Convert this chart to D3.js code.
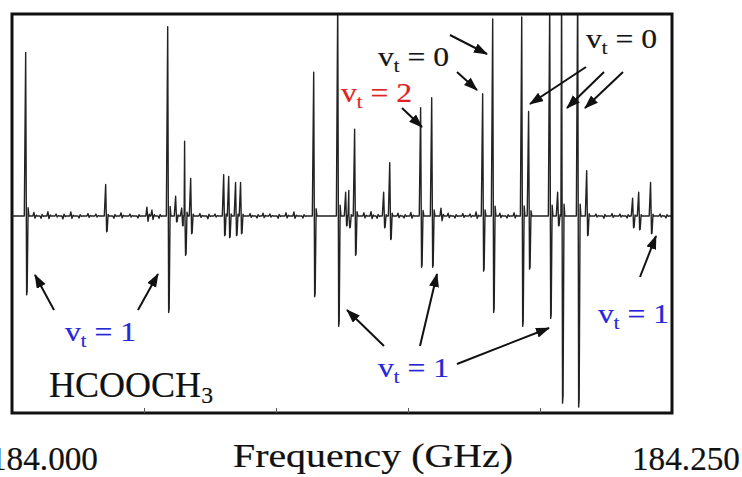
<!DOCTYPE html>
<html>
<head>
<meta charset="utf-8">
<script src="https://cdn.jsdelivr.net/npm/d3@7"></script>
<style>
  body { margin: 0; background: #fff; }
  svg { display: block; }
</style>
</head>
<body>
<div id="chart"></div>
<script>
// strong lines: frequency (GHz), positive lobe, negative lobe (arbitrary units)
const lineFreq = [184.0053, 184.0356, 184.0591, 184.0621, 184.0644, 184.0655, 184.0678,
  184.0803, 184.0822, 184.0848, 184.0867, 184.1144, 184.1235, 184.1265, 184.1277, 184.1299,
  184.1409, 184.1432, 184.1549, 184.1591, 184.1784, 184.1822, 184.1932, 184.1958, 184.2038,
  184.2068, 184.2083, 184.2144, 184.2178, 184.2352, 184.2375, 184.2420];
const lineUp = [0.83, 0.16, 0.96, 0.10, 0.04, 0.38, 0.19,
  0.21, 0.20, 0.17, 0.17, 0.73, 1.10, 0.12, 0.13, 0.44,
  0.12, 0.27, 0.55, 0.60, 0.62, 1.00, 1.01, 0.53, 1.10,
  0.12, 1.20, 1.20, 0.23, 0.09, 0.12, 0.17];
const lineDown = [-0.40, -0.08, -0.49, -0.03, -0.05, -0.20, -0.09,
  -0.10, -0.11, -0.10, -0.09, -0.41, -0.56, -0.05, -0.06, -0.20,
  -0.06, -0.12, -0.26, -0.26, -0.28, -0.49, -0.56, -0.27, -0.52,
  -0.05, -0.95, -0.97, -0.10, -0.06, -0.07, -0.09];

// weak features in the baseline (negative = dip first)
const weakFreq = [184.0083, 184.0110, 184.0136, 184.0167, 184.0193, 184.0223, 184.0254, 184.0288,
  184.0318, 184.0386, 184.0413, 184.0447, 184.0477, 184.0511, 184.0530, 184.0557, 184.0712,
  184.0742, 184.0769, 184.0902, 184.0928, 184.0951, 184.0977, 184.1008, 184.1038, 184.1068,
  184.1102, 184.1333, 184.1360, 184.1383, 184.1462, 184.1485, 184.1511, 184.1625, 184.1652,
  184.1678, 184.1708, 184.1735, 184.1758, 184.1848, 184.1875, 184.1902, 184.2212, 184.2242,
  184.2273, 184.2303, 184.2330, 184.2455, 184.2477];
const weakAmp = [0.018, -0.012, 0.022, 0.010, -0.015, 0.020, -0.010, 0.012,
  0.010, -0.012, 0.016, 0.010, -0.010, 0.045, 0.030, -0.012, 0.012,
  -0.014, 0.010, 0.012, -0.010, 0.014, 0.010, -0.012, 0.016, 0.020,
  -0.010, 0.016, 0.022, -0.012, 0.014, -0.010, 0.018, 0.040, 0.014,
  -0.010, 0.012, 0.010, 0.020, 0.014, -0.010, 0.016, 0.010, -0.012,
  0.012, 0.010, -0.010, 0.010, -0.010];

const freqDomain = [184.000, 184.250];
const minorTicks = [184.05, 184.10, 184.15, 184.20];
const endLabels = ["184.000", "184.250"];

const W = 742, H = 477;
const box = { left: 12, top: 14, right: 672, bottom: 413 };

const svg = d3.select("#chart").append("svg")
  .attr("width", W).attr("height", H);

const x = d3.scaleLinear().domain(freqDomain).range([box.left, box.right]);
const y = d3.scaleLinear().domain([-1, 1.025]).range([box.bottom, box.top]);

svg.append("clipPath").attr("id", "plotclip")
  .append("rect")
  .attr("x", box.left).attr("y", box.top)
  .attr("width", box.right - box.left).attr("height", box.bottom - box.top);

// build the trace
const w = 0.0004;
let pts = [[freqDomain[0] + 0.0004, 0], [freqDomain[1] - 0.0004, 0]];
lineFreq.forEach((f, i) => {
  const up = lineUp[i], dn = lineDown[i];
  pts.push([f - 1.6 * w, 0], [f - 0.3 * w, up], [f + 0.6 * w, dn], [f + 1.1 * w, dn * 0.96],
    [f + 2.0 * w, up * 0.05], [f + 2.8 * w, 0]);
});
weakFreq.forEach((f, i) => {
  const a = weakAmp[i];
  pts.push([f - w, 0], [f, a], [f + w, -0.6 * a], [f + 2.2 * w, 0.2 * a], [f + 3 * w, 0]);
});
pts.sort((a, b) => a[0] - b[0]);

svg.append("path")
  .datum(pts)
  .attr("clip-path", "url(#plotclip)")
  .attr("fill", "none")
  .attr("stroke", "#222")
  .attr("stroke-width", 1.4)
  .attr("stroke-linejoin", "round")
  .attr("d", d3.line().x(d => x(d[0])).y(d => y(d[1])));

// frame
svg.append("rect")
  .attr("x", box.left).attr("y", box.top)
  .attr("width", box.right - box.left).attr("height", box.bottom - box.top)
  .attr("fill", "none").attr("stroke", "#111").attr("stroke-width", 3);

const ax = svg.append("g")
  .attr("transform", "translate(0," + box.bottom + ")")
  .call(d3.axisBottom(x).tickValues(minorTicks).tickSizeInner(-5).tickSizeOuter(0).tickFormat(""));
ax.select(".domain").remove();
ax.selectAll("line").attr("stroke", "#555").attr("stroke-width", 1);

const serif = "'Liberation Serif', 'DejaVu Serif', serif";

// fit text to a target width by horizontal scaling
function fitText(sel, x0, y0, target) {
  const bw = sel.node().getBBox().width;
  sel.attr("transform", `translate(${x0},${y0}) scale(${target / bw},1)`);
}

function heavy(sel, c) {
  return sel.attr("stroke", c).attr("stroke-width", 0.2);
}

const l0 = heavy(svg.append("text").attr("font-family", serif).attr("font-size", 33)
  .attr("fill", "#111"), "#111").text(endLabels[0]);
fitText(l0, -10, 470, 108);
const l1 = heavy(svg.append("text").attr("font-family", serif).attr("font-size", 33)
  .attr("fill", "#111"), "#111").text(endLabels[1]);
fitText(l1, 632, 470, 108);
const xt = heavy(svg.append("text").attr("font-family", serif).attr("font-size", 33)
  .attr("fill", "#111"), "#111").text("Frequency (GHz)");
fitText(xt, 233, 467, 280);

// molecule label
const mol = heavy(svg.append("text").attr("font-family", serif).attr("font-size", 35).attr("fill", "#111"), "#111");
mol.append("tspan").text("HCOOCH");
mol.append("tspan").attr("font-size", 23).attr("dy", 6).text("3");
fitText(mol, 49, 397, 164);

// vt labels
const blue = "#2626d9", red = "#e02222", black = "#151515";
const vtLabels = [
  { v: "1", c: blue, x: 65, y: 341 },
  { v: "1", c: blue, x: 378, y: 377 },
  { v: "1", c: blue, x: 598, y: 323 },
  { v: "0", c: black, x: 378, y: 66 },
  { v: "0", c: black, x: 586, y: 48 },
  { v: "2", c: red, x: 341, y: 102 }
];
vtLabels.forEach(d => {
  const t = heavy(svg.append("text").attr("font-family", serif).attr("font-size", 28).attr("fill", d.c), d.c);
  t.append("tspan").text("v");
  t.append("tspan").attr("font-size", 18).attr("dy", 6).text("t");
  t.append("tspan").attr("dy", -6).text(" = " + d.v);
  fitText(t, d.x, d.y, 71);
});

// arrows
const defs = svg.append("defs");
defs.append("marker").attr("id", "head")
  .attr("markerUnits", "userSpaceOnUse")
  .attr("markerWidth", 16).attr("markerHeight", 12)
  .attr("refX", 13).attr("refY", 5)
  .attr("orient", "auto")
  .append("path").attr("d", "M0,0 L14,5 L0,10 Z").attr("fill", "#111");

const arrows = [
  [54, 310, 35, 275], [138, 310, 158, 274],
  [384, 346, 347, 310], [420, 346, 437, 274], [457, 364, 549, 328],
  [640, 277, 656, 236],
  [450, 35, 487, 54], [457, 72, 477, 90],
  [586, 67, 530, 104], [604, 72, 567, 108], [623, 72, 585, 108],
  [402, 108, 422, 127]
];
svg.selectAll(".arrow").data(arrows).enter().append("line")
  .attr("class", "arrow")
  .attr("x1", d => d[0]).attr("y1", d => d[1])
  .attr("x2", d => d[2]).attr("y2", d => d[3])
  .attr("stroke", "#111").attr("stroke-width", 2)
  .attr("marker-end", "url(#head)");
</script>
</body>
</html>
